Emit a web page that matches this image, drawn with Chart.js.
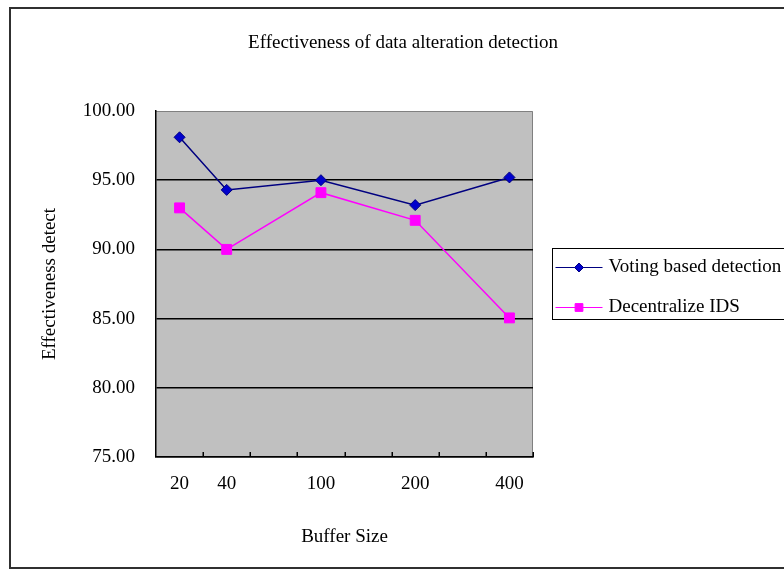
<!DOCTYPE html>
<html>
<head>
<meta charset="utf-8">
<script src="https://cdn.jsdelivr.net/npm/chart.js@4/dist/chart.umd.min.js"></script>
<style>
  html, body { margin: 0; padding: 0; background: #fff; }
  #wrap { width: 784px; height: 571px; }
</style>
</head>
<body>
<div id="wrap"><canvas id="c" width="784" height="571"></canvas></div>
<script>
// ---- data ----
const categories = ['20', '40', '', '100', '', '200', '', '400'];
const votingValues = [98.1, 94.3, null, 95.0, null, 93.2, null, 95.2];
const decentralizeValues = [93.0, 90.0, null, 94.1, null, 92.1, null, 85.05];
const seriesNames = ['Voting based detection', 'Decentralize IDS'];
const yTickValues = [75, 80, 85, 90, 95, 100];
const chartTitle = 'Effectiveness of data alteration detection';
const xTitle = 'Buffer Size';
const yTitle = 'Effectiveness detect';

const FONT = "'Liberation Serif', 'Times New Roman', serif";

const frameAndBackground = {
  id: 'frameAndBackground',
  beforeDraw(chart) {
    const ctx = chart.ctx;
    const ca = chart.chartArea;
    ctx.save();
    ctx.fillStyle = '#ffffff';
    ctx.fillRect(0, 0, chart.width, chart.height);
    ctx.strokeStyle = '#303030';
    ctx.lineWidth = 2;
    ctx.strokeRect(10, 8, chart.width + 10, chart.height - 11);
    ctx.fillStyle = '#c0c0c0';
    ctx.fillRect(ca.left, ca.top, ca.right - ca.left, ca.bottom - ca.top);
    ctx.strokeStyle = '#808080';
    ctx.lineWidth = 1;
    ctx.beginPath();
    ctx.moveTo(ca.left, ca.top + 0.5);
    ctx.lineTo(ca.right - 0.5, ca.top + 0.5);
    ctx.lineTo(ca.right - 0.5, ca.bottom);
    ctx.stroke();
    ctx.restore();
  },
  afterDatasetsDraw(chart) {
    // inward tick marks on the category axis, at the boundaries between categories
    const ctx = chart.ctx;
    const xs = chart.scales.x;
    const ca = chart.chartArea;
    ctx.save();
    ctx.strokeStyle = '#000';
    ctx.lineWidth = 1.5;
    ctx.beginPath();
    for (let i = 1; i <= categories.length; i++) {
      const px = Math.round(xs.getPixelForValue(i - 0.5)) + 0.25;
      ctx.moveTo(px, ca.bottom);
      ctx.lineTo(px, ca.bottom - 5);
    }
    ctx.stroke();
    ctx.restore();
  }
};

const boxedLegend = {
  id: 'boxedLegend',
  afterDraw(chart) {
    const ctx = chart.ctx;
    const ca = chart.chartArea;
    const left = ca.right + 19.5;
    const mid = (ca.top + ca.bottom) / 2;
    const top = Math.round(mid - 36) + 0.5;
    const h = 71;
    const legendRadius = [4.5, 5.5];
    ctx.save();
    ctx.strokeStyle = '#000';
    ctx.lineWidth = 1;
    ctx.strokeRect(left, top, chart.width + 20 - left, h);
    chart.data.datasets.forEach((ds, i) => {
      const y = top + 19 + i * 40;
      const x0 = left + 3, x1 = left + 50;
      ctx.strokeStyle = ds.borderColor;
      ctx.lineWidth = 1;
      ctx.beginPath();
      ctx.moveTo(x0, y);
      ctx.lineTo(x1, y);
      ctx.stroke();
      ctx.fillStyle = ds.pointBackgroundColor;
      ctx.strokeStyle = ds.pointBorderColor;
      ctx.lineWidth = ds.pointBorderWidth;
      Chart.helpers.drawPoint(ctx, {
        pointStyle: ds.pointStyle,
        radius: legendRadius[i],
        rotation: 0,
        borderWidth: ds.pointBorderWidth
      }, (x0 + x1) / 2, y);
      ctx.fillStyle = '#000';
      ctx.font = '19px ' + FONT;
      ctx.textBaseline = 'middle';
      ctx.textAlign = 'left';
      ctx.fillText(ds.label, x1 + 6, y);
    });
    ctx.restore();
  }
};

new Chart(document.getElementById('c'), {
  type: 'line',
  data: {
    labels: categories,
    datasets: [
      {
        label: seriesNames[0],
        data: votingValues,
        borderColor: '#000080',
        borderWidth: 1.5,
        pointStyle: 'rectRot',
        pointRadius: 5.5,
        pointBackgroundColor: '#0000cc',
        pointBorderColor: '#000080',
        pointBorderWidth: 1,
        spanGaps: true,
        tension: 0
      },
      {
        label: seriesNames[1],
        data: decentralizeValues,
        borderColor: '#ff00ff',
        borderWidth: 1.5,
        pointStyle: 'rect',
        pointRadius: 7,
        pointBackgroundColor: '#ff00ff',
        pointBorderColor: '#ff00ff',
        pointBorderWidth: 1,
        spanGaps: true,
        tension: 0
      }
    ]
  },
  options: {
    responsive: false,
    animation: false,
    devicePixelRatio: 1,
    layout: { padding: { left: 22, right: 0, top: 20, bottom: 10 } },
    plugins: {
      legend: { display: false },
      tooltip: { enabled: false },
      title: {
        display: true,
        text: chartTitle,
        color: '#000',
        font: { family: FONT, size: 19, weight: 'normal' },
        padding: { top: 11.6, bottom: 56.6 }
      }
    },
    scales: {
      x: {
        type: 'category',
        offset: true,
        afterFit(s) { s.height = 104; },
        grid: {
          display: false,
          drawTicks: false
        },
        border: { display: true, color: '#000', width: 1.5 },
        ticks: {
          color: '#000',
          font: { family: FONT, size: 19 },
          padding: 16,
          maxRotation: 0,
          autoSkip: false
        },
        title: {
          display: true,
          text: xTitle,
          color: '#000',
          font: { family: FONT, size: 19 },
          padding: { top: 0, bottom: 12.6 }
        }
      },
      y: {
        min: 75,
        max: 100,
        afterFit(s) { s.width = 134; },
        afterBuildTicks(s) { s.ticks = yTickValues.map(v => ({ value: v })); },
        grid: {
          drawTicks: false,
          color(ctx) { return ctx.tick && ctx.tick.value === 100 ? 'rgba(0,0,0,0)' : '#000'; },
          lineWidth: 1.5
        },
        border: { display: true, color: '#000', width: 1.5 },
        ticks: {
          color: '#000',
          font: { family: FONT, size: 19 },
          padding: 21,
          callback(v) { return Number(v).toFixed(2); }
        },
        title: {
          display: true,
          text: yTitle,
          color: '#000',
          font: { family: FONT, size: 19 },
          padding: 16.6
        }
      },
      spacer: {
        type: 'linear',
        position: 'right',
        display: true,
        afterFit(s) { s.width = 251; },
        grid: { display: false },
        border: { display: false },
        ticks: { display: false }
      }
    }
  },
  plugins: [frameAndBackground, boxedLegend]
});
</script>
</body>
</html>
